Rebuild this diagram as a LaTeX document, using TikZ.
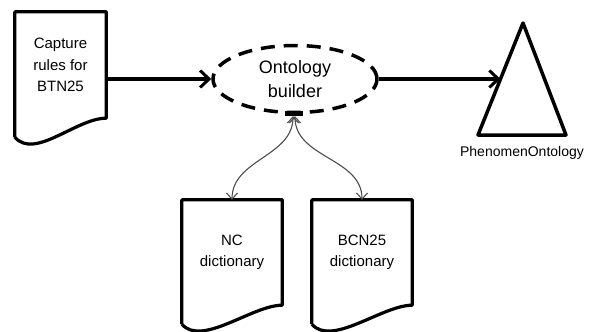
\documentclass[tikz,border=0pt]{standalone}
\usepackage{fontspec}
\setmainfont{Liberation Sans}
\usepackage{tikz}
\usetikzlibrary{arrows.meta, positioning, calc, shapes.geometric}

\begin{document}
\begin{tikzpicture}[x=1pt, y=1pt,
	doc/.style={minimum width=91pt, minimum height=106pt, inner sep=0pt, align=center, font=\fontsize{15}{21.5}\selectfont},
	docline/.style={line width=3.2pt, line join=round},
	flow/.style={line width=3.5pt, -{Straight Barb[length=9pt, width=17pt, line width=3pt]}},
	link/.style={line width=1.1pt, draw=black!70, {Straight Barb[length=6pt, width=11pt]}-{Straight Barb[length=6pt, width=11pt]}}]
	% Frame:
	\useasboundingbox (0, 0) rectangle (598, -332);
	% Nodes:
	\node[doc] (capture) at (60.5, -65){Capture\\rules for\\BTN25};
	\node[doc, minimum width=100pt, minimum height=105pt] (nc) at (232, -252.5){NC\\dictionary};
	\node[doc, minimum width=100pt, minimum height=105pt] (bcn) at (362, -252.5){BCN25\\dictionary};
	\node[ellipse, draw, dash pattern=on 14pt off 9pt, line width=3.5pt, minimum width=164pt, minimum height=67pt, inner sep=0pt, align=center, font=\fontsize{18}{24}\selectfont] (ont) at (295, -79){Ontology\\builder};
	\node[fill, minimum width=18pt, minimum height=5pt, inner sep=0pt] (bar) at (294, -113.5){};
	% Triangle:
	\coordinate (apex) at (523, -23);
	\coordinate (left) at (478, -135);
	\coordinate (right) at (566, -135);
	\coordinate (side) at ($(left)!0.5!(apex)$);
	\draw[docline, line width=3.5pt] (apex) -- (right) -- (left) -- cycle;
	\node[below=8pt of {$(left)!0.5!(right)$}, font=\fontsize{14}{16}\selectfont] (tlabel){PhenomenOntology};
	% Document outlines:
	\foreach \n in {capture, nc, bcn}
		\draw[docline] ([yshift=-19pt]\n.south west) -- (\n.north west) -- (\n.north east) -- (\n.south east)
			.. controls +(-30, 0) and +(20, -23) .. ([yshift=-19pt]\n.south west);
	% Connectors:
	\draw[flow] (capture.east |- ont.west) -- (ont.west);
	\draw[flow] (ont.east) -- (side);
	\draw[link] ([xshift=-1pt]bar.south) to[out=-90, in=90] (nc.north);
	\draw[link] ([xshift=1pt]bar.south) to[out=-90, in=90] (bcn.north);
\end{tikzpicture}
\end{document}
